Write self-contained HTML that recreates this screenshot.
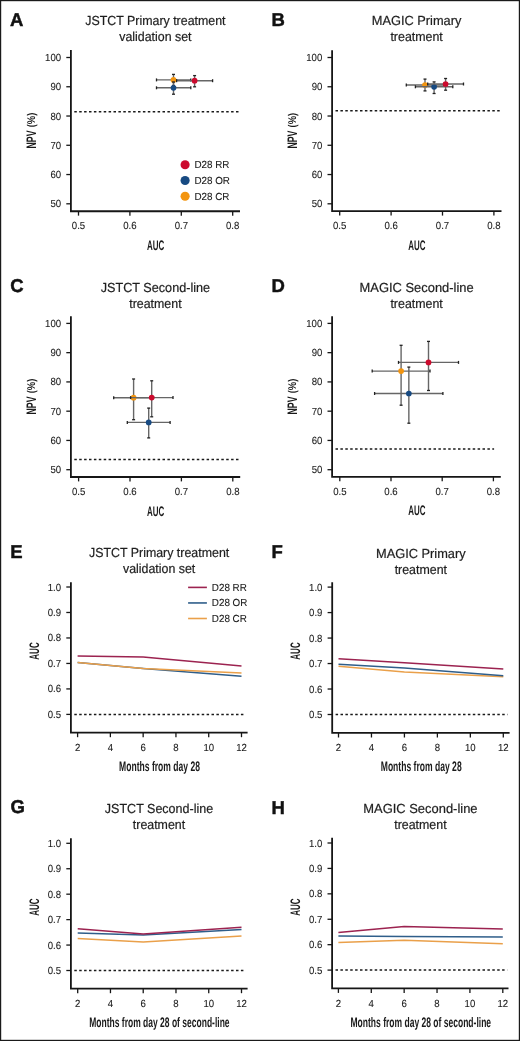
<!DOCTYPE html>
<html><head><meta charset="utf-8"><style>
html,body{margin:0;padding:0;background:#fff;}
body{width:520px;height:1041px;overflow:hidden;}
svg{display:block;font-family:"Liberation Sans", sans-serif;will-change:transform;text-rendering:geometricPrecision;}
</style></head><body>
<svg width="520" height="1041" viewBox="0 0 520 1041">
<rect x="0" y="0" width="520" height="1041" fill="#fff"/>
<rect x="0.6" y="0.6" width="518.8" height="1039.8" fill="none" stroke="#1a1a1a" stroke-width="1.2"/>
<text x="9.93" y="25.80" font-size="18.5" font-weight="bold" fill="#111" stroke="#111" stroke-width="0.45">A</text>
<text transform="translate(155.40,25.40) scale(1,1.06)" font-size="12.4" text-anchor="middle" fill="#1e1e1e" stroke="#1e1e1e" stroke-width="0.2" >JSTCT Primary treatment</text>
<text transform="translate(155.40,41.20) scale(1,1.06)" font-size="12.4" text-anchor="middle" fill="#1e1e1e" stroke="#1e1e1e" stroke-width="0.2" >validation set</text>
<line x1="74.30" y1="111.80" x2="239.20" y2="111.80" stroke="#1a1a1a" stroke-width="1.5" stroke-dasharray="2.5 2.4"/>
<path d="M70.90,50.00 V211.25 H240.00" fill="none" stroke="#161616" stroke-width="1.8" stroke-linejoin="miter"/>
<line x1="66.30" y1="203.80" x2="70.90" y2="203.80" stroke="#161616" stroke-width="1.3" />
<text transform="translate(61.10,207.30) scale(1,1.07)" font-size="9.6" text-anchor="end" fill="#1c1c1c" stroke="#1c1c1c" stroke-width="0.1" >50</text>
<line x1="66.30" y1="174.54" x2="70.90" y2="174.54" stroke="#161616" stroke-width="1.3" />
<text transform="translate(61.10,178.04) scale(1,1.07)" font-size="9.6" text-anchor="end" fill="#1c1c1c" stroke="#1c1c1c" stroke-width="0.1" >60</text>
<line x1="66.30" y1="145.28" x2="70.90" y2="145.28" stroke="#161616" stroke-width="1.3" />
<text transform="translate(61.10,148.78) scale(1,1.07)" font-size="9.6" text-anchor="end" fill="#1c1c1c" stroke="#1c1c1c" stroke-width="0.1" >70</text>
<line x1="66.30" y1="116.02" x2="70.90" y2="116.02" stroke="#161616" stroke-width="1.3" />
<text transform="translate(61.10,119.52) scale(1,1.07)" font-size="9.6" text-anchor="end" fill="#1c1c1c" stroke="#1c1c1c" stroke-width="0.1" >80</text>
<line x1="66.30" y1="86.76" x2="70.90" y2="86.76" stroke="#161616" stroke-width="1.3" />
<text transform="translate(61.10,90.26) scale(1,1.07)" font-size="9.6" text-anchor="end" fill="#1c1c1c" stroke="#1c1c1c" stroke-width="0.1" >90</text>
<line x1="66.30" y1="57.50" x2="70.90" y2="57.50" stroke="#161616" stroke-width="1.3" />
<text transform="translate(61.10,61.00) scale(1,1.07)" font-size="9.6" text-anchor="end" fill="#1c1c1c" stroke="#1c1c1c" stroke-width="0.1" >100</text>
<line x1="78.50" y1="211.25" x2="78.50" y2="215.65" stroke="#161616" stroke-width="1.3" />
<text transform="translate(78.50,229.25) scale(1,1.07)" font-size="9.6" text-anchor="middle" fill="#1c1c1c" stroke="#1c1c1c" stroke-width="0.1" >0.5</text>
<line x1="129.90" y1="211.25" x2="129.90" y2="215.65" stroke="#161616" stroke-width="1.3" />
<text transform="translate(129.90,229.25) scale(1,1.07)" font-size="9.6" text-anchor="middle" fill="#1c1c1c" stroke="#1c1c1c" stroke-width="0.1" >0.6</text>
<line x1="181.30" y1="211.25" x2="181.30" y2="215.65" stroke="#161616" stroke-width="1.3" />
<text transform="translate(181.30,229.25) scale(1,1.07)" font-size="9.6" text-anchor="middle" fill="#1c1c1c" stroke="#1c1c1c" stroke-width="0.1" >0.7</text>
<line x1="232.70" y1="211.25" x2="232.70" y2="215.65" stroke="#161616" stroke-width="1.3" />
<text transform="translate(232.70,229.25) scale(1,1.07)" font-size="9.6" text-anchor="middle" fill="#1c1c1c" stroke="#1c1c1c" stroke-width="0.1" >0.8</text>
<text x="155.60" y="249.75" font-size="13.8" text-anchor="middle" fill="#1a1a1a" font-weight="bold" stroke="#1a1a1a" stroke-width="0" textLength="17.2" lengthAdjust="spacingAndGlyphs">AUC</text>
<text transform="translate(35.80,148.53) rotate(-90)" font-size="13.8" font-weight="bold" fill="#1a1a1a" textLength="18.0" lengthAdjust="spacingAndGlyphs">NPV</text>
<text transform="translate(34.60,127.33) rotate(-90)" font-size="11.2" font-weight="bold" fill="#1a1a1a" textLength="14.6" lengthAdjust="spacingAndGlyphs">(%)</text>
<g stroke="#666" stroke-width="1.4"><line x1="156.5" y1="79.9" x2="190.8" y2="79.9"/><line x1="173.5" y1="74.4" x2="173.5" y2="85.5"/></g>
<g stroke="#222" stroke-width="1.3"><line x1="156.5" y1="78.4" x2="156.5" y2="81.4"/><line x1="190.8" y1="78.4" x2="190.8" y2="81.4"/><line x1="172.0" y1="74.4" x2="175.0" y2="74.4"/><line x1="172.0" y1="85.5" x2="175.0" y2="85.5"/></g>
<circle cx="173.5" cy="79.9" r="2.85" fill="#f39510"/>
<g stroke="#666" stroke-width="1.4"><line x1="176.6" y1="80.7" x2="212.6" y2="80.7"/><line x1="194.6" y1="75.6" x2="194.6" y2="86.8"/></g>
<g stroke="#222" stroke-width="1.3"><line x1="176.6" y1="79.2" x2="176.6" y2="82.2"/><line x1="212.6" y1="79.2" x2="212.6" y2="82.2"/><line x1="193.1" y1="75.6" x2="196.1" y2="75.6"/><line x1="193.1" y1="86.8" x2="196.1" y2="86.8"/></g>
<circle cx="194.6" cy="80.7" r="2.85" fill="#cc0a2d"/>
<g stroke="#666" stroke-width="1.4"><line x1="156.5" y1="87.8" x2="190.8" y2="87.8"/><line x1="173.5" y1="82.0" x2="173.5" y2="94.2"/></g>
<g stroke="#222" stroke-width="1.3"><line x1="156.5" y1="86.3" x2="156.5" y2="89.3"/><line x1="190.8" y1="86.3" x2="190.8" y2="89.3"/><line x1="172.0" y1="82.0" x2="175.0" y2="82.0"/><line x1="172.0" y1="94.2" x2="175.0" y2="94.2"/></g>
<circle cx="173.5" cy="87.8" r="2.85" fill="#174a82"/>
<circle cx="185.1" cy="164.80" r="4.55" fill="#cc0a2d"/>
<text transform="translate(194.40,168.30) scale(1,1.04)" font-size="9.85" text-anchor="start" fill="#1c1c1c" stroke="#1c1c1c" stroke-width="0.1" >D28 RR</text>
<circle cx="185.1" cy="180.50" r="4.55" fill="#174a82"/>
<text transform="translate(194.40,184.00) scale(1,1.04)" font-size="9.85" text-anchor="start" fill="#1c1c1c" stroke="#1c1c1c" stroke-width="0.1" >D28 OR</text>
<circle cx="185.1" cy="196.20" r="4.55" fill="#f39510"/>
<text transform="translate(194.40,199.70) scale(1,1.04)" font-size="9.85" text-anchor="start" fill="#1c1c1c" stroke="#1c1c1c" stroke-width="0.1" >D28 CR</text>
<text x="271.53" y="25.80" font-size="18.5" font-weight="bold" fill="#111" stroke="#111" stroke-width="0.45">B</text>
<text transform="translate(416.60,25.40) scale(1,1.06)" font-size="12.4" text-anchor="middle" fill="#1e1e1e" stroke="#1e1e1e" stroke-width="0.2" textLength="89.6" lengthAdjust="spacingAndGlyphs">MAGIC Primary</text>
<text transform="translate(416.60,41.20) scale(1,1.06)" font-size="12.4" text-anchor="middle" fill="#1e1e1e" stroke="#1e1e1e" stroke-width="0.2" >treatment</text>
<line x1="335.50" y1="110.80" x2="499.90" y2="110.80" stroke="#1a1a1a" stroke-width="1.5" stroke-dasharray="2.5 2.4"/>
<path d="M332.10,50.20 V211.20 H501.50" fill="none" stroke="#161616" stroke-width="1.8" stroke-linejoin="miter"/>
<line x1="327.50" y1="203.80" x2="332.10" y2="203.80" stroke="#161616" stroke-width="1.3" />
<text transform="translate(322.30,207.30) scale(1,1.07)" font-size="9.6" text-anchor="end" fill="#1c1c1c" stroke="#1c1c1c" stroke-width="0.1" >50</text>
<line x1="327.50" y1="174.54" x2="332.10" y2="174.54" stroke="#161616" stroke-width="1.3" />
<text transform="translate(322.30,178.04) scale(1,1.07)" font-size="9.6" text-anchor="end" fill="#1c1c1c" stroke="#1c1c1c" stroke-width="0.1" >60</text>
<line x1="327.50" y1="145.28" x2="332.10" y2="145.28" stroke="#161616" stroke-width="1.3" />
<text transform="translate(322.30,148.78) scale(1,1.07)" font-size="9.6" text-anchor="end" fill="#1c1c1c" stroke="#1c1c1c" stroke-width="0.1" >70</text>
<line x1="327.50" y1="116.02" x2="332.10" y2="116.02" stroke="#161616" stroke-width="1.3" />
<text transform="translate(322.30,119.52) scale(1,1.07)" font-size="9.6" text-anchor="end" fill="#1c1c1c" stroke="#1c1c1c" stroke-width="0.1" >80</text>
<line x1="327.50" y1="86.76" x2="332.10" y2="86.76" stroke="#161616" stroke-width="1.3" />
<text transform="translate(322.30,90.26) scale(1,1.07)" font-size="9.6" text-anchor="end" fill="#1c1c1c" stroke="#1c1c1c" stroke-width="0.1" >90</text>
<line x1="327.50" y1="57.50" x2="332.10" y2="57.50" stroke="#161616" stroke-width="1.3" />
<text transform="translate(322.30,61.00) scale(1,1.07)" font-size="9.6" text-anchor="end" fill="#1c1c1c" stroke="#1c1c1c" stroke-width="0.1" >100</text>
<line x1="339.70" y1="211.20" x2="339.70" y2="215.60" stroke="#161616" stroke-width="1.3" />
<text transform="translate(339.70,229.20) scale(1,1.07)" font-size="9.6" text-anchor="middle" fill="#1c1c1c" stroke="#1c1c1c" stroke-width="0.1" >0.5</text>
<line x1="391.10" y1="211.20" x2="391.10" y2="215.60" stroke="#161616" stroke-width="1.3" />
<text transform="translate(391.10,229.20) scale(1,1.07)" font-size="9.6" text-anchor="middle" fill="#1c1c1c" stroke="#1c1c1c" stroke-width="0.1" >0.6</text>
<line x1="442.50" y1="211.20" x2="442.50" y2="215.60" stroke="#161616" stroke-width="1.3" />
<text transform="translate(442.50,229.20) scale(1,1.07)" font-size="9.6" text-anchor="middle" fill="#1c1c1c" stroke="#1c1c1c" stroke-width="0.1" >0.7</text>
<line x1="493.90" y1="211.20" x2="493.90" y2="215.60" stroke="#161616" stroke-width="1.3" />
<text transform="translate(493.90,229.20) scale(1,1.07)" font-size="9.6" text-anchor="middle" fill="#1c1c1c" stroke="#1c1c1c" stroke-width="0.1" >0.8</text>
<text x="416.80" y="249.70" font-size="13.8" text-anchor="middle" fill="#1a1a1a" font-weight="bold" stroke="#1a1a1a" stroke-width="0" textLength="17.2" lengthAdjust="spacingAndGlyphs">AUC</text>
<text transform="translate(297.00,148.60) rotate(-90)" font-size="13.8" font-weight="bold" fill="#1a1a1a" textLength="18.0" lengthAdjust="spacingAndGlyphs">NPV</text>
<text transform="translate(295.80,127.40) rotate(-90)" font-size="11.2" font-weight="bold" fill="#1a1a1a" textLength="14.6" lengthAdjust="spacingAndGlyphs">(%)</text>
<g stroke="#666" stroke-width="1.4"><line x1="406.3" y1="85.0" x2="443.7" y2="85.0"/><line x1="425.0" y1="79.1" x2="425.0" y2="90.9"/></g>
<g stroke="#222" stroke-width="1.3"><line x1="406.3" y1="83.5" x2="406.3" y2="86.5"/><line x1="443.7" y1="83.5" x2="443.7" y2="86.5"/><line x1="423.5" y1="79.1" x2="426.5" y2="79.1"/><line x1="423.5" y1="90.9" x2="426.5" y2="90.9"/></g>
<circle cx="425.0" cy="85.0" r="2.85" fill="#f39510"/>
<g stroke="#666" stroke-width="1.4"><line x1="415.4" y1="86.8" x2="452.8" y2="86.8"/><line x1="434.1" y1="81.9" x2="434.1" y2="93.5"/></g>
<g stroke="#222" stroke-width="1.3"><line x1="415.4" y1="85.3" x2="415.4" y2="88.3"/><line x1="452.8" y1="85.3" x2="452.8" y2="88.3"/><line x1="432.6" y1="81.9" x2="435.6" y2="81.9"/><line x1="432.6" y1="93.5" x2="435.6" y2="93.5"/></g>
<circle cx="434.1" cy="86.8" r="2.85" fill="#174a82"/>
<g stroke="#666" stroke-width="1.4"><line x1="427.7" y1="84.0" x2="463.5" y2="84.0"/><line x1="445.6" y1="78.5" x2="445.6" y2="90.2"/></g>
<g stroke="#222" stroke-width="1.3"><line x1="427.7" y1="82.5" x2="427.7" y2="85.5"/><line x1="463.5" y1="82.5" x2="463.5" y2="85.5"/><line x1="444.1" y1="78.5" x2="447.1" y2="78.5"/><line x1="444.1" y1="90.2" x2="447.1" y2="90.2"/></g>
<circle cx="445.6" cy="84.0" r="2.85" fill="#cc0a2d"/>
<text x="10.22" y="292.00" font-size="18.5" font-weight="bold" fill="#111" stroke="#111" stroke-width="0.45">C</text>
<text transform="translate(155.40,292.20) scale(1,1.06)" font-size="12.4" text-anchor="middle" fill="#1e1e1e" stroke="#1e1e1e" stroke-width="0.2" textLength="109.3" lengthAdjust="spacingAndGlyphs">JSTCT Second-line</text>
<text transform="translate(155.40,308.00) scale(1,1.06)" font-size="12.4" text-anchor="middle" fill="#1e1e1e" stroke="#1e1e1e" stroke-width="0.2" >treatment</text>
<line x1="74.30" y1="459.50" x2="239.00" y2="459.50" stroke="#1a1a1a" stroke-width="1.5" stroke-dasharray="2.5 2.4"/>
<path d="M70.90,316.20 V477.00 H240.20" fill="none" stroke="#161616" stroke-width="1.8" stroke-linejoin="miter"/>
<line x1="66.30" y1="469.70" x2="70.90" y2="469.70" stroke="#161616" stroke-width="1.3" />
<text transform="translate(61.10,473.20) scale(1,1.07)" font-size="9.6" text-anchor="end" fill="#1c1c1c" stroke="#1c1c1c" stroke-width="0.1" >50</text>
<line x1="66.30" y1="440.44" x2="70.90" y2="440.44" stroke="#161616" stroke-width="1.3" />
<text transform="translate(61.10,443.94) scale(1,1.07)" font-size="9.6" text-anchor="end" fill="#1c1c1c" stroke="#1c1c1c" stroke-width="0.1" >60</text>
<line x1="66.30" y1="411.18" x2="70.90" y2="411.18" stroke="#161616" stroke-width="1.3" />
<text transform="translate(61.10,414.68) scale(1,1.07)" font-size="9.6" text-anchor="end" fill="#1c1c1c" stroke="#1c1c1c" stroke-width="0.1" >70</text>
<line x1="66.30" y1="381.92" x2="70.90" y2="381.92" stroke="#161616" stroke-width="1.3" />
<text transform="translate(61.10,385.42) scale(1,1.07)" font-size="9.6" text-anchor="end" fill="#1c1c1c" stroke="#1c1c1c" stroke-width="0.1" >80</text>
<line x1="66.30" y1="352.66" x2="70.90" y2="352.66" stroke="#161616" stroke-width="1.3" />
<text transform="translate(61.10,356.16) scale(1,1.07)" font-size="9.6" text-anchor="end" fill="#1c1c1c" stroke="#1c1c1c" stroke-width="0.1" >90</text>
<line x1="66.30" y1="323.40" x2="70.90" y2="323.40" stroke="#161616" stroke-width="1.3" />
<text transform="translate(61.10,326.90) scale(1,1.07)" font-size="9.6" text-anchor="end" fill="#1c1c1c" stroke="#1c1c1c" stroke-width="0.1" >100</text>
<line x1="78.60" y1="477.00" x2="78.60" y2="481.40" stroke="#161616" stroke-width="1.3" />
<text transform="translate(78.60,495.00) scale(1,1.07)" font-size="9.6" text-anchor="middle" fill="#1c1c1c" stroke="#1c1c1c" stroke-width="0.1" >0.5</text>
<line x1="130.00" y1="477.00" x2="130.00" y2="481.40" stroke="#161616" stroke-width="1.3" />
<text transform="translate(130.00,495.00) scale(1,1.07)" font-size="9.6" text-anchor="middle" fill="#1c1c1c" stroke="#1c1c1c" stroke-width="0.1" >0.6</text>
<line x1="181.40" y1="477.00" x2="181.40" y2="481.40" stroke="#161616" stroke-width="1.3" />
<text transform="translate(181.40,495.00) scale(1,1.07)" font-size="9.6" text-anchor="middle" fill="#1c1c1c" stroke="#1c1c1c" stroke-width="0.1" >0.7</text>
<line x1="232.80" y1="477.00" x2="232.80" y2="481.40" stroke="#161616" stroke-width="1.3" />
<text transform="translate(232.80,495.00) scale(1,1.07)" font-size="9.6" text-anchor="middle" fill="#1c1c1c" stroke="#1c1c1c" stroke-width="0.1" >0.8</text>
<text x="155.60" y="515.50" font-size="13.8" text-anchor="middle" fill="#1a1a1a" font-weight="bold" stroke="#1a1a1a" stroke-width="0" textLength="17.2" lengthAdjust="spacingAndGlyphs">AUC</text>
<text transform="translate(35.80,414.50) rotate(-90)" font-size="13.8" font-weight="bold" fill="#1a1a1a" textLength="18.0" lengthAdjust="spacingAndGlyphs">NPV</text>
<text transform="translate(34.60,393.30) rotate(-90)" font-size="11.2" font-weight="bold" fill="#1a1a1a" textLength="14.6" lengthAdjust="spacingAndGlyphs">(%)</text>
<g stroke="#666" stroke-width="1.4"><line x1="113.7" y1="397.7" x2="153.5" y2="397.7"/><line x1="133.6" y1="379.0" x2="133.6" y2="419.7"/></g>
<g stroke="#222" stroke-width="1.3"><line x1="113.7" y1="396.2" x2="113.7" y2="399.2"/><line x1="153.5" y1="396.2" x2="153.5" y2="399.2"/><line x1="132.1" y1="379.0" x2="135.1" y2="379.0"/><line x1="132.1" y1="419.7" x2="135.1" y2="419.7"/></g>
<circle cx="133.6" cy="397.7" r="2.85" fill="#f39510"/>
<g stroke="#666" stroke-width="1.4"><line x1="130.6" y1="397.6" x2="173.0" y2="397.6"/><line x1="151.7" y1="380.8" x2="151.7" y2="416.8"/></g>
<g stroke="#222" stroke-width="1.3"><line x1="130.6" y1="396.1" x2="130.6" y2="399.1"/><line x1="173.0" y1="396.1" x2="173.0" y2="399.1"/><line x1="150.2" y1="380.8" x2="153.2" y2="380.8"/><line x1="150.2" y1="416.8" x2="153.2" y2="416.8"/></g>
<circle cx="151.7" cy="397.6" r="2.85" fill="#cc0a2d"/>
<g stroke="#666" stroke-width="1.4"><line x1="127.3" y1="422.4" x2="170.1" y2="422.4"/><line x1="148.7" y1="408.1" x2="148.7" y2="437.9"/></g>
<g stroke="#222" stroke-width="1.3"><line x1="127.3" y1="420.9" x2="127.3" y2="423.9"/><line x1="170.1" y1="420.9" x2="170.1" y2="423.9"/><line x1="147.2" y1="408.1" x2="150.2" y2="408.1"/><line x1="147.2" y1="437.9" x2="150.2" y2="437.9"/></g>
<circle cx="148.7" cy="422.4" r="2.85" fill="#174a82"/>
<text x="271.53" y="292.00" font-size="18.5" font-weight="bold" fill="#111" stroke="#111" stroke-width="0.45">D</text>
<text transform="translate(416.60,292.20) scale(1,1.06)" font-size="12.4" text-anchor="middle" fill="#1e1e1e" stroke="#1e1e1e" stroke-width="0.2" textLength="114.0" lengthAdjust="spacingAndGlyphs">MAGIC Second-line</text>
<text transform="translate(416.60,308.00) scale(1,1.06)" font-size="12.4" text-anchor="middle" fill="#1e1e1e" stroke="#1e1e1e" stroke-width="0.2" >treatment</text>
<line x1="335.50" y1="449.10" x2="494.10" y2="449.10" stroke="#1a1a1a" stroke-width="1.5" stroke-dasharray="2.5 2.4"/>
<path d="M332.10,316.20 V476.90 H500.80" fill="none" stroke="#161616" stroke-width="1.8" stroke-linejoin="miter"/>
<line x1="327.50" y1="469.70" x2="332.10" y2="469.70" stroke="#161616" stroke-width="1.3" />
<text transform="translate(322.30,473.20) scale(1,1.07)" font-size="9.6" text-anchor="end" fill="#1c1c1c" stroke="#1c1c1c" stroke-width="0.1" >50</text>
<line x1="327.50" y1="440.44" x2="332.10" y2="440.44" stroke="#161616" stroke-width="1.3" />
<text transform="translate(322.30,443.94) scale(1,1.07)" font-size="9.6" text-anchor="end" fill="#1c1c1c" stroke="#1c1c1c" stroke-width="0.1" >60</text>
<line x1="327.50" y1="411.18" x2="332.10" y2="411.18" stroke="#161616" stroke-width="1.3" />
<text transform="translate(322.30,414.68) scale(1,1.07)" font-size="9.6" text-anchor="end" fill="#1c1c1c" stroke="#1c1c1c" stroke-width="0.1" >70</text>
<line x1="327.50" y1="381.92" x2="332.10" y2="381.92" stroke="#161616" stroke-width="1.3" />
<text transform="translate(322.30,385.42) scale(1,1.07)" font-size="9.6" text-anchor="end" fill="#1c1c1c" stroke="#1c1c1c" stroke-width="0.1" >80</text>
<line x1="327.50" y1="352.66" x2="332.10" y2="352.66" stroke="#161616" stroke-width="1.3" />
<text transform="translate(322.30,356.16) scale(1,1.07)" font-size="9.6" text-anchor="end" fill="#1c1c1c" stroke="#1c1c1c" stroke-width="0.1" >90</text>
<line x1="327.50" y1="323.40" x2="332.10" y2="323.40" stroke="#161616" stroke-width="1.3" />
<text transform="translate(322.30,326.90) scale(1,1.07)" font-size="9.6" text-anchor="end" fill="#1c1c1c" stroke="#1c1c1c" stroke-width="0.1" >100</text>
<line x1="339.80" y1="476.90" x2="339.80" y2="481.30" stroke="#161616" stroke-width="1.3" />
<text transform="translate(339.80,494.90) scale(1,1.07)" font-size="9.6" text-anchor="middle" fill="#1c1c1c" stroke="#1c1c1c" stroke-width="0.1" >0.5</text>
<line x1="391.00" y1="476.90" x2="391.00" y2="481.30" stroke="#161616" stroke-width="1.3" />
<text transform="translate(391.00,494.90) scale(1,1.07)" font-size="9.6" text-anchor="middle" fill="#1c1c1c" stroke="#1c1c1c" stroke-width="0.1" >0.6</text>
<line x1="442.20" y1="476.90" x2="442.20" y2="481.30" stroke="#161616" stroke-width="1.3" />
<text transform="translate(442.20,494.90) scale(1,1.07)" font-size="9.6" text-anchor="middle" fill="#1c1c1c" stroke="#1c1c1c" stroke-width="0.1" >0.7</text>
<line x1="493.40" y1="476.90" x2="493.40" y2="481.30" stroke="#161616" stroke-width="1.3" />
<text transform="translate(493.40,494.90) scale(1,1.07)" font-size="9.6" text-anchor="middle" fill="#1c1c1c" stroke="#1c1c1c" stroke-width="0.1" >0.8</text>
<text x="416.80" y="515.40" font-size="13.8" text-anchor="middle" fill="#1a1a1a" font-weight="bold" stroke="#1a1a1a" stroke-width="0" textLength="17.2" lengthAdjust="spacingAndGlyphs">AUC</text>
<text transform="translate(297.00,414.45) rotate(-90)" font-size="13.8" font-weight="bold" fill="#1a1a1a" textLength="18.0" lengthAdjust="spacingAndGlyphs">NPV</text>
<text transform="translate(295.80,393.25) rotate(-90)" font-size="11.2" font-weight="bold" fill="#1a1a1a" textLength="14.6" lengthAdjust="spacingAndGlyphs">(%)</text>
<g stroke="#666" stroke-width="1.4"><line x1="398.5" y1="362.4" x2="458.5" y2="362.4"/><line x1="428.5" y1="341.4" x2="428.5" y2="390.5"/></g>
<g stroke="#222" stroke-width="1.3"><line x1="398.5" y1="360.9" x2="398.5" y2="363.9"/><line x1="458.5" y1="360.9" x2="458.5" y2="363.9"/><line x1="427.0" y1="341.4" x2="430.0" y2="341.4"/><line x1="427.0" y1="390.5" x2="430.0" y2="390.5"/></g>
<circle cx="428.5" cy="362.4" r="2.85" fill="#cc0a2d"/>
<g stroke="#666" stroke-width="1.4"><line x1="372.2" y1="371.1" x2="430.0" y2="371.1"/><line x1="401.1" y1="345.3" x2="401.1" y2="405.2"/></g>
<g stroke="#222" stroke-width="1.3"><line x1="372.2" y1="369.6" x2="372.2" y2="372.6"/><line x1="430.0" y1="369.6" x2="430.0" y2="372.6"/><line x1="399.6" y1="345.3" x2="402.6" y2="345.3"/><line x1="399.6" y1="405.2" x2="402.6" y2="405.2"/></g>
<circle cx="401.1" cy="371.1" r="2.85" fill="#f39510"/>
<g stroke="#666" stroke-width="1.4"><line x1="374.6" y1="393.5" x2="442.9" y2="393.5"/><line x1="408.85" y1="367.1" x2="408.85" y2="423.2"/></g>
<g stroke="#222" stroke-width="1.3"><line x1="374.6" y1="392.0" x2="374.6" y2="395.0"/><line x1="442.9" y1="392.0" x2="442.9" y2="395.0"/><line x1="407.35" y1="367.1" x2="410.35" y2="367.1"/><line x1="407.35" y1="423.2" x2="410.35" y2="423.2"/></g>
<circle cx="408.85" cy="393.5" r="2.85" fill="#174a82"/>
<text x="10.23" y="557.60" font-size="18.5" font-weight="bold" fill="#111" stroke="#111" stroke-width="0.45">E</text>
<text transform="translate(159.10,557.40) scale(1,1.06)" font-size="12.4" text-anchor="middle" fill="#1e1e1e" stroke="#1e1e1e" stroke-width="0.2" >JSTCT Primary treatment</text>
<text transform="translate(159.10,573.20) scale(1,1.06)" font-size="12.4" text-anchor="middle" fill="#1e1e1e" stroke="#1e1e1e" stroke-width="0.2" >validation set</text>
<line x1="74.30" y1="714.40" x2="245.00" y2="714.40" stroke="#1a1a1a" stroke-width="1.5" stroke-dasharray="2.5 2.4"/>
<path d="M70.90,582.20 V732.60 H247.60" fill="none" stroke="#161616" stroke-width="1.8"/>
<line x1="66.30" y1="714.40" x2="70.90" y2="714.40" stroke="#161616" stroke-width="1.3" />
<text transform="translate(61.10,717.90) scale(1,1.07)" font-size="9.6" text-anchor="end" fill="#1c1c1c" stroke="#1c1c1c" stroke-width="0.1" >0.5</text>
<line x1="66.30" y1="688.92" x2="70.90" y2="688.92" stroke="#161616" stroke-width="1.3" />
<text transform="translate(61.10,692.42) scale(1,1.07)" font-size="9.6" text-anchor="end" fill="#1c1c1c" stroke="#1c1c1c" stroke-width="0.1" >0.6</text>
<line x1="66.30" y1="663.44" x2="70.90" y2="663.44" stroke="#161616" stroke-width="1.3" />
<text transform="translate(61.10,666.94) scale(1,1.07)" font-size="9.6" text-anchor="end" fill="#1c1c1c" stroke="#1c1c1c" stroke-width="0.1" >0.7</text>
<line x1="66.30" y1="637.96" x2="70.90" y2="637.96" stroke="#161616" stroke-width="1.3" />
<text transform="translate(61.10,641.46) scale(1,1.07)" font-size="9.6" text-anchor="end" fill="#1c1c1c" stroke="#1c1c1c" stroke-width="0.1" >0.8</text>
<line x1="66.30" y1="612.48" x2="70.90" y2="612.48" stroke="#161616" stroke-width="1.3" />
<text transform="translate(61.10,615.98) scale(1,1.07)" font-size="9.6" text-anchor="end" fill="#1c1c1c" stroke="#1c1c1c" stroke-width="0.1" >0.9</text>
<line x1="66.30" y1="587.00" x2="70.90" y2="587.00" stroke="#161616" stroke-width="1.3" />
<text transform="translate(61.10,590.50) scale(1,1.07)" font-size="9.6" text-anchor="end" fill="#1c1c1c" stroke="#1c1c1c" stroke-width="0.1" >1.0</text>
<line x1="77.60" y1="732.60" x2="77.60" y2="737.20" stroke="#161616" stroke-width="1.3" />
<text transform="translate(77.60,751.10) scale(1,1.07)" font-size="9.6" text-anchor="middle" fill="#1c1c1c" stroke="#1c1c1c" stroke-width="0.1" >2</text>
<line x1="110.38" y1="732.60" x2="110.38" y2="737.20" stroke="#161616" stroke-width="1.3" />
<text transform="translate(110.38,751.10) scale(1,1.07)" font-size="9.6" text-anchor="middle" fill="#1c1c1c" stroke="#1c1c1c" stroke-width="0.1" >4</text>
<line x1="143.16" y1="732.60" x2="143.16" y2="737.20" stroke="#161616" stroke-width="1.3" />
<text transform="translate(143.16,751.10) scale(1,1.07)" font-size="9.6" text-anchor="middle" fill="#1c1c1c" stroke="#1c1c1c" stroke-width="0.1" >6</text>
<line x1="175.94" y1="732.60" x2="175.94" y2="737.20" stroke="#161616" stroke-width="1.3" />
<text transform="translate(175.94,751.10) scale(1,1.07)" font-size="9.6" text-anchor="middle" fill="#1c1c1c" stroke="#1c1c1c" stroke-width="0.1" >8</text>
<line x1="208.72" y1="732.60" x2="208.72" y2="737.20" stroke="#161616" stroke-width="1.3" />
<text transform="translate(208.72,751.10) scale(1,1.07)" font-size="9.6" text-anchor="middle" fill="#1c1c1c" stroke="#1c1c1c" stroke-width="0.1" >10</text>
<line x1="241.50" y1="732.60" x2="241.50" y2="737.20" stroke="#161616" stroke-width="1.3" />
<text transform="translate(241.50,751.10) scale(1,1.07)" font-size="9.6" text-anchor="middle" fill="#1c1c1c" stroke="#1c1c1c" stroke-width="0.1" >12</text>
<text x="159.50" y="770.90" font-size="13.8" text-anchor="middle" fill="#1a1a1a" font-weight="bold" stroke="#1a1a1a" stroke-width="0" textLength="80.8" lengthAdjust="spacingAndGlyphs">Months from day 28</text>
<text transform="translate(38.90,651.00) rotate(-90)" x="0" y="0" font-size="13.8" text-anchor="middle" fill="#1a1a1a" font-weight="bold" stroke="#1a1a1a" stroke-width="0" textLength="17.3" lengthAdjust="spacingAndGlyphs">AUC</text>
<polyline points="77.60,662.50 143.16,668.50 241.50,676.30" fill="none" stroke="#2f5e8a" stroke-width="1.5" stroke-linejoin="round"/>
<polyline points="77.60,662.50 143.16,668.50 241.50,672.90" fill="none" stroke="#eaa04a" stroke-width="1.5" stroke-linejoin="round"/>
<polyline points="77.60,656.10 143.16,657.00 241.50,666.00" fill="none" stroke="#9c2350" stroke-width="1.5" stroke-linejoin="round"/>
<line x1="188.10" y1="587.40" x2="206.90" y2="587.40" stroke="#9c2350" stroke-width="1.6" />
<text transform="translate(211.80,590.90) scale(1,1.04)" font-size="9.85" text-anchor="start" fill="#1c1c1c" stroke="#1c1c1c" stroke-width="0.1" >D28 RR</text>
<line x1="188.10" y1="602.95" x2="206.90" y2="602.95" stroke="#2f5e8a" stroke-width="1.6" />
<text transform="translate(211.80,606.45) scale(1,1.04)" font-size="9.85" text-anchor="start" fill="#1c1c1c" stroke="#1c1c1c" stroke-width="0.1" >D28 OR</text>
<line x1="188.10" y1="618.50" x2="206.90" y2="618.50" stroke="#eaa04a" stroke-width="1.6" />
<text transform="translate(211.80,622.00) scale(1,1.04)" font-size="9.85" text-anchor="start" fill="#1c1c1c" stroke="#1c1c1c" stroke-width="0.1" >D28 CR</text>
<text x="271.53" y="557.80" font-size="18.5" font-weight="bold" fill="#111" stroke="#111" stroke-width="0.45">F</text>
<text transform="translate(420.80,557.70) scale(1,1.06)" font-size="12.4" text-anchor="middle" fill="#1e1e1e" stroke="#1e1e1e" stroke-width="0.2" textLength="89.6" lengthAdjust="spacingAndGlyphs">MAGIC Primary</text>
<text transform="translate(420.80,573.50) scale(1,1.06)" font-size="12.4" text-anchor="middle" fill="#1e1e1e" stroke="#1e1e1e" stroke-width="0.2" >treatment</text>
<line x1="335.60" y1="714.50" x2="507.50" y2="714.50" stroke="#1a1a1a" stroke-width="1.5" stroke-dasharray="2.5 2.4"/>
<path d="M332.20,582.20 V732.90 H509.60" fill="none" stroke="#161616" stroke-width="1.8"/>
<line x1="327.60" y1="714.50" x2="332.20" y2="714.50" stroke="#161616" stroke-width="1.3" />
<text transform="translate(322.40,718.00) scale(1,1.07)" font-size="9.6" text-anchor="end" fill="#1c1c1c" stroke="#1c1c1c" stroke-width="0.1" >0.5</text>
<line x1="327.60" y1="689.02" x2="332.20" y2="689.02" stroke="#161616" stroke-width="1.3" />
<text transform="translate(322.40,692.52) scale(1,1.07)" font-size="9.6" text-anchor="end" fill="#1c1c1c" stroke="#1c1c1c" stroke-width="0.1" >0.6</text>
<line x1="327.60" y1="663.54" x2="332.20" y2="663.54" stroke="#161616" stroke-width="1.3" />
<text transform="translate(322.40,667.04) scale(1,1.07)" font-size="9.6" text-anchor="end" fill="#1c1c1c" stroke="#1c1c1c" stroke-width="0.1" >0.7</text>
<line x1="327.60" y1="638.06" x2="332.20" y2="638.06" stroke="#161616" stroke-width="1.3" />
<text transform="translate(322.40,641.56) scale(1,1.07)" font-size="9.6" text-anchor="end" fill="#1c1c1c" stroke="#1c1c1c" stroke-width="0.1" >0.8</text>
<line x1="327.60" y1="612.58" x2="332.20" y2="612.58" stroke="#161616" stroke-width="1.3" />
<text transform="translate(322.40,616.08) scale(1,1.07)" font-size="9.6" text-anchor="end" fill="#1c1c1c" stroke="#1c1c1c" stroke-width="0.1" >0.9</text>
<line x1="327.60" y1="587.10" x2="332.20" y2="587.10" stroke="#161616" stroke-width="1.3" />
<text transform="translate(322.40,590.60) scale(1,1.07)" font-size="9.6" text-anchor="end" fill="#1c1c1c" stroke="#1c1c1c" stroke-width="0.1" >1.0</text>
<line x1="338.50" y1="732.90" x2="338.50" y2="737.50" stroke="#161616" stroke-width="1.3" />
<text transform="translate(338.50,751.40) scale(1,1.07)" font-size="9.6" text-anchor="middle" fill="#1c1c1c" stroke="#1c1c1c" stroke-width="0.1" >2</text>
<line x1="371.46" y1="732.90" x2="371.46" y2="737.50" stroke="#161616" stroke-width="1.3" />
<text transform="translate(371.46,751.40) scale(1,1.07)" font-size="9.6" text-anchor="middle" fill="#1c1c1c" stroke="#1c1c1c" stroke-width="0.1" >4</text>
<line x1="404.42" y1="732.90" x2="404.42" y2="737.50" stroke="#161616" stroke-width="1.3" />
<text transform="translate(404.42,751.40) scale(1,1.07)" font-size="9.6" text-anchor="middle" fill="#1c1c1c" stroke="#1c1c1c" stroke-width="0.1" >6</text>
<line x1="437.38" y1="732.90" x2="437.38" y2="737.50" stroke="#161616" stroke-width="1.3" />
<text transform="translate(437.38,751.40) scale(1,1.07)" font-size="9.6" text-anchor="middle" fill="#1c1c1c" stroke="#1c1c1c" stroke-width="0.1" >8</text>
<line x1="470.34" y1="732.90" x2="470.34" y2="737.50" stroke="#161616" stroke-width="1.3" />
<text transform="translate(470.34,751.40) scale(1,1.07)" font-size="9.6" text-anchor="middle" fill="#1c1c1c" stroke="#1c1c1c" stroke-width="0.1" >10</text>
<line x1="503.30" y1="732.90" x2="503.30" y2="737.50" stroke="#161616" stroke-width="1.3" />
<text transform="translate(503.30,751.40) scale(1,1.07)" font-size="9.6" text-anchor="middle" fill="#1c1c1c" stroke="#1c1c1c" stroke-width="0.1" >12</text>
<text x="421.20" y="771.20" font-size="13.8" text-anchor="middle" fill="#1a1a1a" font-weight="bold" stroke="#1a1a1a" stroke-width="0" textLength="80.9" lengthAdjust="spacingAndGlyphs">Months from day 28</text>
<text transform="translate(300.20,651.00) rotate(-90)" x="0" y="0" font-size="13.8" text-anchor="middle" fill="#1a1a1a" font-weight="bold" stroke="#1a1a1a" stroke-width="0" textLength="17.3" lengthAdjust="spacingAndGlyphs">AUC</text>
<polyline points="338.50,666.30 404.42,672.10 503.30,676.70" fill="none" stroke="#eaa04a" stroke-width="1.5" stroke-linejoin="round"/>
<polyline points="338.50,664.20 404.42,668.00 503.30,675.70" fill="none" stroke="#2f5e8a" stroke-width="1.5" stroke-linejoin="round"/>
<polyline points="338.50,658.70 404.42,662.80 503.30,668.90" fill="none" stroke="#9c2350" stroke-width="1.5" stroke-linejoin="round"/>
<text x="10.42" y="813.40" font-size="18.5" font-weight="bold" fill="#111" stroke="#111" stroke-width="0.45">G</text>
<text transform="translate(159.00,813.45) scale(1,1.06)" font-size="12.4" text-anchor="middle" fill="#1e1e1e" stroke="#1e1e1e" stroke-width="0.2" textLength="108.3" lengthAdjust="spacingAndGlyphs">JSTCT Second-line</text>
<text transform="translate(159.00,829.25) scale(1,1.06)" font-size="12.4" text-anchor="middle" fill="#1e1e1e" stroke="#1e1e1e" stroke-width="0.2" >treatment</text>
<line x1="74.30" y1="970.50" x2="244.50" y2="970.50" stroke="#1a1a1a" stroke-width="1.5" stroke-dasharray="2.5 2.4"/>
<path d="M70.90,838.30 V988.60 H247.60" fill="none" stroke="#161616" stroke-width="1.8"/>
<line x1="66.30" y1="970.50" x2="70.90" y2="970.50" stroke="#161616" stroke-width="1.3" />
<text transform="translate(61.10,974.00) scale(1,1.07)" font-size="9.6" text-anchor="end" fill="#1c1c1c" stroke="#1c1c1c" stroke-width="0.1" >0.5</text>
<line x1="66.30" y1="945.06" x2="70.90" y2="945.06" stroke="#161616" stroke-width="1.3" />
<text transform="translate(61.10,948.56) scale(1,1.07)" font-size="9.6" text-anchor="end" fill="#1c1c1c" stroke="#1c1c1c" stroke-width="0.1" >0.6</text>
<line x1="66.30" y1="919.62" x2="70.90" y2="919.62" stroke="#161616" stroke-width="1.3" />
<text transform="translate(61.10,923.12) scale(1,1.07)" font-size="9.6" text-anchor="end" fill="#1c1c1c" stroke="#1c1c1c" stroke-width="0.1" >0.7</text>
<line x1="66.30" y1="894.18" x2="70.90" y2="894.18" stroke="#161616" stroke-width="1.3" />
<text transform="translate(61.10,897.68) scale(1,1.07)" font-size="9.6" text-anchor="end" fill="#1c1c1c" stroke="#1c1c1c" stroke-width="0.1" >0.8</text>
<line x1="66.30" y1="868.74" x2="70.90" y2="868.74" stroke="#161616" stroke-width="1.3" />
<text transform="translate(61.10,872.24) scale(1,1.07)" font-size="9.6" text-anchor="end" fill="#1c1c1c" stroke="#1c1c1c" stroke-width="0.1" >0.9</text>
<line x1="66.30" y1="843.30" x2="70.90" y2="843.30" stroke="#161616" stroke-width="1.3" />
<text transform="translate(61.10,846.80) scale(1,1.07)" font-size="9.6" text-anchor="end" fill="#1c1c1c" stroke="#1c1c1c" stroke-width="0.1" >1.0</text>
<line x1="77.70" y1="988.60" x2="77.70" y2="993.20" stroke="#161616" stroke-width="1.3" />
<text transform="translate(77.70,1007.10) scale(1,1.07)" font-size="9.6" text-anchor="middle" fill="#1c1c1c" stroke="#1c1c1c" stroke-width="0.1" >2</text>
<line x1="110.46" y1="988.60" x2="110.46" y2="993.20" stroke="#161616" stroke-width="1.3" />
<text transform="translate(110.46,1007.10) scale(1,1.07)" font-size="9.6" text-anchor="middle" fill="#1c1c1c" stroke="#1c1c1c" stroke-width="0.1" >4</text>
<line x1="143.22" y1="988.60" x2="143.22" y2="993.20" stroke="#161616" stroke-width="1.3" />
<text transform="translate(143.22,1007.10) scale(1,1.07)" font-size="9.6" text-anchor="middle" fill="#1c1c1c" stroke="#1c1c1c" stroke-width="0.1" >6</text>
<line x1="175.98" y1="988.60" x2="175.98" y2="993.20" stroke="#161616" stroke-width="1.3" />
<text transform="translate(175.98,1007.10) scale(1,1.07)" font-size="9.6" text-anchor="middle" fill="#1c1c1c" stroke="#1c1c1c" stroke-width="0.1" >8</text>
<line x1="208.74" y1="988.60" x2="208.74" y2="993.20" stroke="#161616" stroke-width="1.3" />
<text transform="translate(208.74,1007.10) scale(1,1.07)" font-size="9.6" text-anchor="middle" fill="#1c1c1c" stroke="#1c1c1c" stroke-width="0.1" >10</text>
<line x1="241.50" y1="988.60" x2="241.50" y2="993.20" stroke="#161616" stroke-width="1.3" />
<text transform="translate(241.50,1007.10) scale(1,1.07)" font-size="9.6" text-anchor="middle" fill="#1c1c1c" stroke="#1c1c1c" stroke-width="0.1" >12</text>
<text x="159.40" y="1026.90" font-size="13.8" text-anchor="middle" fill="#1a1a1a" font-weight="bold" stroke="#1a1a1a" stroke-width="0" textLength="140.4" lengthAdjust="spacingAndGlyphs">Months from day 28 of second-line</text>
<text transform="translate(38.90,907.10) rotate(-90)" x="0" y="0" font-size="13.8" text-anchor="middle" fill="#1a1a1a" font-weight="bold" stroke="#1a1a1a" stroke-width="0" textLength="17.3" lengthAdjust="spacingAndGlyphs">AUC</text>
<polyline points="77.70,938.50 143.22,942.00 241.50,936.00" fill="none" stroke="#eaa04a" stroke-width="1.5" stroke-linejoin="round"/>
<polyline points="77.70,933.00 143.22,935.00 241.50,929.50" fill="none" stroke="#2f5e8a" stroke-width="1.5" stroke-linejoin="round"/>
<polyline points="77.70,928.70 143.22,934.00 241.50,927.30" fill="none" stroke="#9c2350" stroke-width="1.5" stroke-linejoin="round"/>
<text x="271.53" y="813.60" font-size="18.5" font-weight="bold" fill="#111" stroke="#111" stroke-width="0.45">H</text>
<text transform="translate(420.40,813.45) scale(1,1.06)" font-size="12.4" text-anchor="middle" fill="#1e1e1e" stroke="#1e1e1e" stroke-width="0.2" textLength="114.2" lengthAdjust="spacingAndGlyphs">MAGIC Second-line</text>
<text transform="translate(420.40,829.25) scale(1,1.06)" font-size="12.4" text-anchor="middle" fill="#1e1e1e" stroke="#1e1e1e" stroke-width="0.2" >treatment</text>
<line x1="335.50" y1="970.10" x2="507.20" y2="970.10" stroke="#1a1a1a" stroke-width="1.5" stroke-dasharray="2.5 2.4"/>
<path d="M332.10,837.80 V988.30 H508.50" fill="none" stroke="#161616" stroke-width="1.8"/>
<line x1="327.50" y1="970.10" x2="332.10" y2="970.10" stroke="#161616" stroke-width="1.3" />
<text transform="translate(322.30,973.60) scale(1,1.07)" font-size="9.6" text-anchor="end" fill="#1c1c1c" stroke="#1c1c1c" stroke-width="0.1" >0.5</text>
<line x1="327.50" y1="944.68" x2="332.10" y2="944.68" stroke="#161616" stroke-width="1.3" />
<text transform="translate(322.30,948.18) scale(1,1.07)" font-size="9.6" text-anchor="end" fill="#1c1c1c" stroke="#1c1c1c" stroke-width="0.1" >0.6</text>
<line x1="327.50" y1="919.26" x2="332.10" y2="919.26" stroke="#161616" stroke-width="1.3" />
<text transform="translate(322.30,922.76) scale(1,1.07)" font-size="9.6" text-anchor="end" fill="#1c1c1c" stroke="#1c1c1c" stroke-width="0.1" >0.7</text>
<line x1="327.50" y1="893.84" x2="332.10" y2="893.84" stroke="#161616" stroke-width="1.3" />
<text transform="translate(322.30,897.34) scale(1,1.07)" font-size="9.6" text-anchor="end" fill="#1c1c1c" stroke="#1c1c1c" stroke-width="0.1" >0.8</text>
<line x1="327.50" y1="868.42" x2="332.10" y2="868.42" stroke="#161616" stroke-width="1.3" />
<text transform="translate(322.30,871.92) scale(1,1.07)" font-size="9.6" text-anchor="end" fill="#1c1c1c" stroke="#1c1c1c" stroke-width="0.1" >0.9</text>
<line x1="327.50" y1="843.00" x2="332.10" y2="843.00" stroke="#161616" stroke-width="1.3" />
<text transform="translate(322.30,846.50) scale(1,1.07)" font-size="9.6" text-anchor="end" fill="#1c1c1c" stroke="#1c1c1c" stroke-width="0.1" >1.0</text>
<line x1="338.40" y1="988.30" x2="338.40" y2="992.90" stroke="#161616" stroke-width="1.3" />
<text transform="translate(338.40,1006.80) scale(1,1.07)" font-size="9.6" text-anchor="middle" fill="#1c1c1c" stroke="#1c1c1c" stroke-width="0.1" >2</text>
<line x1="371.28" y1="988.30" x2="371.28" y2="992.90" stroke="#161616" stroke-width="1.3" />
<text transform="translate(371.28,1006.80) scale(1,1.07)" font-size="9.6" text-anchor="middle" fill="#1c1c1c" stroke="#1c1c1c" stroke-width="0.1" >4</text>
<line x1="404.16" y1="988.30" x2="404.16" y2="992.90" stroke="#161616" stroke-width="1.3" />
<text transform="translate(404.16,1006.80) scale(1,1.07)" font-size="9.6" text-anchor="middle" fill="#1c1c1c" stroke="#1c1c1c" stroke-width="0.1" >6</text>
<line x1="437.04" y1="988.30" x2="437.04" y2="992.90" stroke="#161616" stroke-width="1.3" />
<text transform="translate(437.04,1006.80) scale(1,1.07)" font-size="9.6" text-anchor="middle" fill="#1c1c1c" stroke="#1c1c1c" stroke-width="0.1" >8</text>
<line x1="469.92" y1="988.30" x2="469.92" y2="992.90" stroke="#161616" stroke-width="1.3" />
<text transform="translate(469.92,1006.80) scale(1,1.07)" font-size="9.6" text-anchor="middle" fill="#1c1c1c" stroke="#1c1c1c" stroke-width="0.1" >10</text>
<line x1="502.80" y1="988.30" x2="502.80" y2="992.90" stroke="#161616" stroke-width="1.3" />
<text transform="translate(502.80,1006.80) scale(1,1.07)" font-size="9.6" text-anchor="middle" fill="#1c1c1c" stroke="#1c1c1c" stroke-width="0.1" >12</text>
<text x="420.80" y="1026.60" font-size="13.8" text-anchor="middle" fill="#1a1a1a" font-weight="bold" stroke="#1a1a1a" stroke-width="0" textLength="140.6" lengthAdjust="spacingAndGlyphs">Months from day 28 of second-line</text>
<text transform="translate(300.10,907.10) rotate(-90)" x="0" y="0" font-size="13.8" text-anchor="middle" fill="#1a1a1a" font-weight="bold" stroke="#1a1a1a" stroke-width="0" textLength="17.3" lengthAdjust="spacingAndGlyphs">AUC</text>
<polyline points="338.40,942.50 404.16,940.30 502.80,943.80" fill="none" stroke="#eaa04a" stroke-width="1.5" stroke-linejoin="round"/>
<polyline points="338.40,936.00 404.16,936.50 502.80,937.10" fill="none" stroke="#2f5e8a" stroke-width="1.5" stroke-linejoin="round"/>
<polyline points="338.40,932.50 404.16,926.40 502.80,929.00" fill="none" stroke="#9c2350" stroke-width="1.5" stroke-linejoin="round"/>
</svg></body></html>
